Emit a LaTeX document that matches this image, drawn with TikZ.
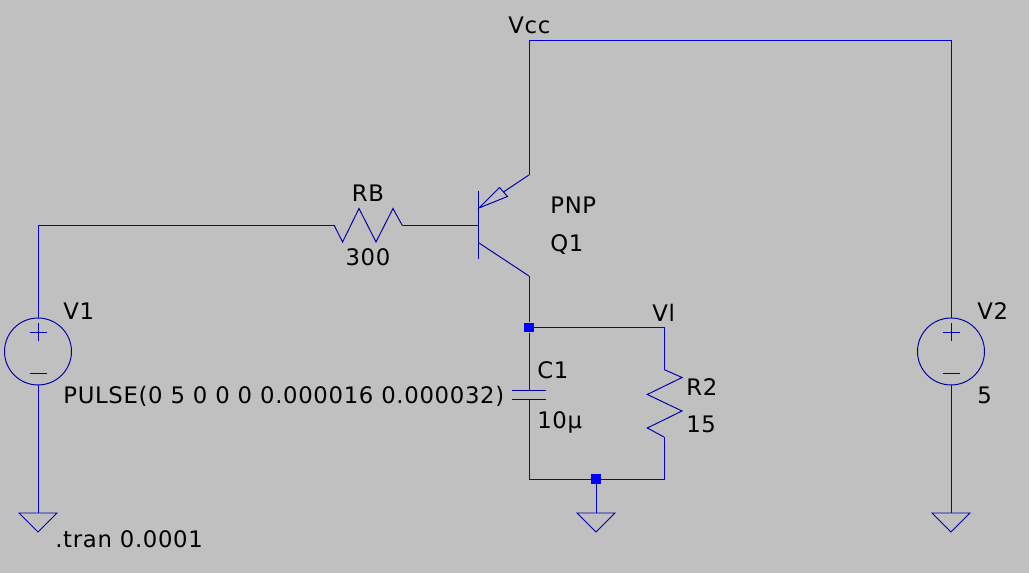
\documentclass[tikz,border=0pt]{standalone}
\usepackage{fontspec}
\setmainfont{DejaVu Sans}[LetterSpace=3]
\usetikzlibrary{calc}
\definecolor{sheet}{HTML}{C0C0C0}
\definecolor{wirecol}{HTML}{0000E0}
\definecolor{symcol}{HTML}{0000A8}
\tikzset{
  wire/.style={draw=wirecol, line width=0.55pt},
  sym/.style={draw=symcol, line width=0.55pt},
  junction/.style={fill=blue, inner sep=0pt, minimum size=0.19cm},
  vsource/.style={circle, sym, inner sep=0pt, minimum size=1.34cm},
  lab/.style={anchor=base west, inner sep=0pt, font=\fontsize{12.95}{14}\selectfont, text=black},
  labc/.style={lab, anchor=base}
}
\begin{document}
\begin{tikzpicture}[x=0.02cm, y=-0.02cm]
  \fill[sheet] (0,0) rectangle (1029,573);
  \useasboundingbox (0,0) rectangle (1029,573);

  % sources and junctions
  \node[vsource] (srcA) at (38,351.5) {};
  \node[vsource] (srcB) at (951,351.5) {};
  \node[junction] (jtop) at (529,327.5) {};
  \node[junction] (jbot) at (596,479) {};

  % pins
  \coordinate (gndA) at (38,513);
  \coordinate (gndB) at (951,513);
  \coordinate (gndC) at (596,513);
  \coordinate (rbL) at (334,225);
  \coordinate (rbR) at (402,225);
  \coordinate (base) at (478,225);
  \coordinate (emit) at (529,175);
  \coordinate (coll) at (529,276);
  \coordinate (capT) at (529,390.5);
  \coordinate (capB) at (529,399.5);
  \coordinate (r2T) at (664,369.5);
  \coordinate (r2B) at (664,437);

  % wires
  \draw[wire] (srcA.north) |- (rbL);
  \draw[wire] (rbR) -- (base);
  \draw[wire] (srcA.south) -- (gndA);
  \draw[wire] (emit) |- (529,40) -| (srcB.north);
  \draw[wire] (srcB.south) -- (gndB);
  \draw[wire] (coll) -- (jtop);
  \draw[wire] (jtop) -- (capT);
  \draw[wire] (capB) -- (529,479) -- (jbot);
  \draw[wire] (jtop) -| (r2T);
  \draw[wire] (r2B) |- (jbot);
  \draw[wire] (jbot) -- (gndC);

  % grounds
  \foreach \g in {gndA, gndB, gndC} {
    \draw[sym] ($(\g)+(-19,0)$) -- ($(\g)+(19,0)$) -- ($(\g)+(0,19)$) -- cycle;
  };

  % plus and minus
  \foreach \s in {srcA, srcB} {
    \draw[sym] ($(\s)+(-8.5,-19)$) -- ($(\s)+(8.5,-19)$);
    \draw[sym] ($(\s)+(0,-28)$) -- ($(\s)+(0,-10)$);
    \draw[sym] ($(\s)+(-8.5,22)$) -- ($(\s)+(8.5,22)$);
  };

  % RB and R2
  \draw[sym] (rbL) -- (342.6,242) -- (359,208.5) -- (376,242) -- (393,208.5) -- (rbR);
  \draw[sym] (r2T) -- (682,377.5) -- (647.3,394.5) -- (682,411) -- (647.3,428) -- (r2B);

  % C1
  \draw[sym] ($(capT)+(-17,0)$) -- ($(capT)+(17,0)$);
  \draw[sym] ($(capB)+(-17,0)$) -- ($(capB)+(17,0)$);

  % Q1
  \draw[sym] (478.5,191) -- (478.5,259);
  \draw[sym] (479,243) -- (coll);
  \draw[sym] (479,208) -- (499.5,187.5) -- (507.5,196.5) -- cycle;
  \draw[sym] (503.5,192) -- (emit);

  % labels
  \node[lab] (lVcc) at (508,34) {Vcc};
  \node[labc] (lRB) at (368,202) {RB};
  \node[labc] (lRBv) at (368,266) {300};
  \node[lab] (lPNP) at (550,214) {PNP};
  \node[lab] (lQ) at (550,252) {Q1};
  \node[lab] (lVA) at (63,320) {V1};
  \node[lab] (lPulse) at (63,404) {PULSE(0 5 0 0 0 0.000016 0.000032)};
  \node[lab] (lTran) at (55,548) {.tran 0.0001};
  \node[lab] (lVl) at (652,322) {Vl};
  \node[lab] (lC) at (537,379) {C1};
  \node[lab] (lCv) at (537,429) {10µ};
  \node[lab] (lR) at (686,396) {R2};
  \node[lab] (lRv) at (686,433) {15};
  \node[lab] (lVB) at (977,320) {V2};
  \node[lab] (lVBv) at (977,404) {5};
\end{tikzpicture}
\end{document}
